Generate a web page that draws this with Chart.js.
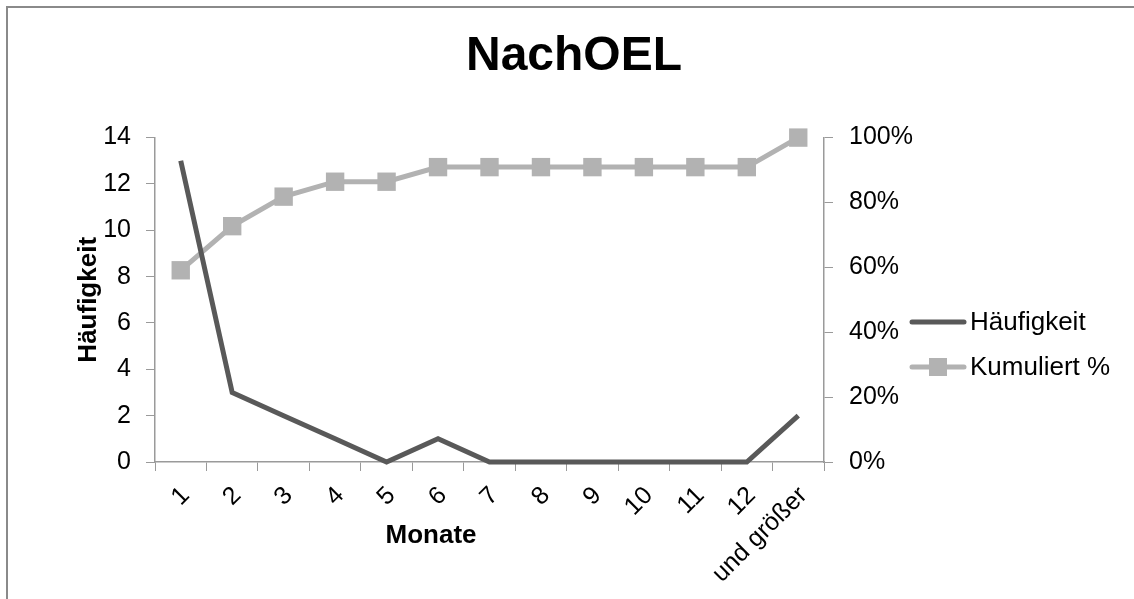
<!DOCTYPE html>
<html>
<head>
<meta charset="utf-8">
<script src="https://cdn.jsdelivr.net/npm/chart.js@4"></script>
<style>
  html, body { margin: 0; padding: 0; background: #fff; }
  #wrap { width: 1134px; height: 599px; position: relative; }
</style>
</head>
<body>
<div id="wrap"><canvas id="chart"></canvas></div>
<script>
// values
const monate = ['1', '2', '3', '4', '5', '6', '7', '8', '9', '10', '11', '12', 'und größer'];
const haeufigkeit = [13, 3, 2, 1, 0, 1, 0, 0, 0, 0, 0, 0, 2];
const kumuliert = [0.591, 0.727, 0.818, 0.864, 0.864, 0.909, 0.909, 0.909, 0.909, 0.909, 0.909, 0.909, 1.0];
const yLeftTicks = [0, 14, 2];
const yRightTicks = [0, 1, 0.2];

const FONT = "'Liberation Sans', Arial, sans-serif";
const dark = '#595959';
const light = '#b2b2b2';
const axisGray = '#9a9a9a';

// border, x axis title and legend like the Excel original
const extras = {
    id: 'extras',
    afterDraw(chart) {
        const ctx = chart.ctx;
        ctx.save();
        ctx.strokeStyle = '#8a8a8a';
        ctx.lineWidth = 2;
        ctx.strokeRect(7, 7, 1200, 700);

        ctx.fillStyle = '#000';
        ctx.font = 'bold 26px ' + FONT;
        ctx.textAlign = 'center';
        ctx.textBaseline = 'middle';
        ctx.fillText('Monate', 431, 536);

        // legend
        ctx.font = '26px ' + FONT;
        ctx.textAlign = 'left';
        const rows = [322, 367];
        chart.data.datasets.forEach((ds, i) => {
            const y = rows[i];
            ctx.strokeStyle = ds.borderColor;
            ctx.lineWidth = 5;
            ctx.lineCap = 'round';
            ctx.beginPath();
            ctx.moveTo(912, y);
            ctx.lineTo(964, y);
            ctx.stroke();
            if (ds.pointRadius > 0) {
                ctx.fillStyle = ds.borderColor;
                ctx.fillRect(938 - 9, y - 9, 18, 18);
            }
            ctx.fillStyle = '#000';
            ctx.fillText(ds.label, 970, y + 1);
        });
        ctx.restore();
    }
};

const ctx = document.getElementById('chart').getContext('2d');
new Chart(ctx, {
    type: 'line',
    data: {
        labels: monate,
        datasets: [
            {
                label: 'Häufigkeit',
                data: haeufigkeit,
                yAxisID: 'y',
                borderColor: dark,
                backgroundColor: dark,
                borderWidth: 5,
                pointRadius: 0,
                tension: 0,
                clip: false
            },
            {
                label: 'Kumuliert %',
                data: kumuliert,
                yAxisID: 'y1',
                borderColor: light,
                backgroundColor: light,
                borderWidth: 5,
                pointStyle: 'rect',
                pointRadius: 13,
                pointBorderWidth: 0,
                pointBackgroundColor: light,
                tension: 0,
                clip: false
            }
        ]
    },
    options: {
        responsive: true,
        maintainAspectRatio: false,
        animation: false,
        layout: { padding: { left: 14, right: 0, top: 0, bottom: 0 } },
        scales: {
            x: {
                offset: true,
                grid: {
                    offset: true,
                    drawOnChartArea: false,
                    drawTicks: true,
                    tickLength: 9,
                    color: axisGray
                },
                border: { color: axisGray, width: 1.5 },
                ticks: {
                    autoSkip: false,
                    maxRotation: 45,
                    minRotation: 45,
                    padding: 10,
                    labelOffset: 5,
                    color: '#000',
                    font: { family: FONT, size: 25 }
                },
                afterFit(scale) { scale.height = 599 - 462; }
            },
            y: {
                position: 'left',
                min: yLeftTicks[0],
                max: yLeftTicks[1],
                grid: { drawOnChartArea: false, tickLength: 9, color: axisGray },
                border: { color: axisGray, width: 1.5 },
                ticks: {
                    stepSize: yLeftTicks[2],
                    padding: 15,
                    color: '#000',
                    font: { family: FONT, size: 25 }
                },
                title: {
                    display: true,
                    text: 'Häufigkeit',
                    color: '#000',
                    padding: { top: 59, bottom: 0 },
                    font: { family: FONT, size: 26, weight: 'bold' }
                },
                afterFit(scale) { scale.width = 155 - 14; }
            },
            y1: {
                position: 'right',
                min: yRightTicks[0],
                max: yRightTicks[1],
                grid: { drawOnChartArea: false, tickLength: 9, color: axisGray },
                border: { color: axisGray, width: 1.5 },
                ticks: {
                    stepSize: yRightTicks[2],
                    padding: 16,
                    color: '#000',
                    font: { family: FONT, size: 25 },
                    callback: v => Math.round(v * 100) + '%'
                },
                afterFit(scale) { scale.width = 1134 - 824; }
            }
        },
        plugins: {
            legend: { display: false },
            tooltip: { enabled: false },
            title: {
                display: true,
                text: 'NachOEL',
                color: '#000',
                padding: { top: 28, bottom: 52 },
                font: { family: FONT, size: 48, weight: 'bold' }
            }
        }
    },
    plugins: [extras]
});
</script>
</body>
</html>
